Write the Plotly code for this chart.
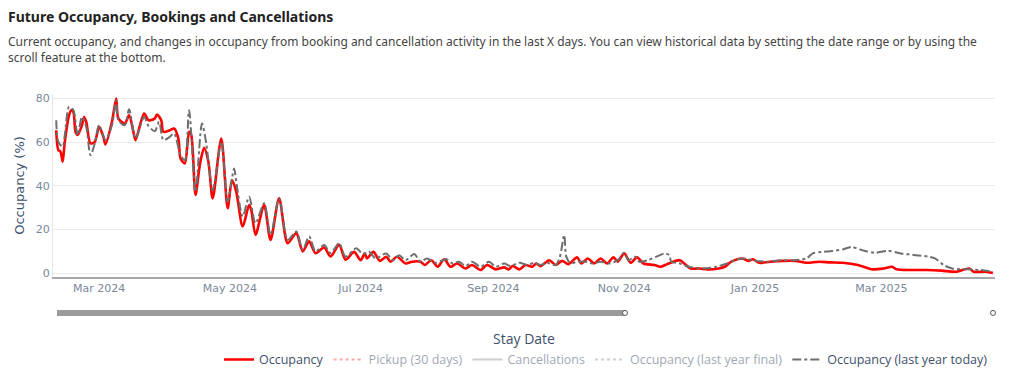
import plotly.graph_objects as go

# ---- data ----
occ_dates = [
    "2024-02-10", "2024-02-11", "2024-02-12", "2024-02-13", "2024-02-14", "2024-02-16", "2024-02-17",
    "2024-02-18", "2024-02-19", "2024-02-20", "2024-02-22", "2024-02-23", "2024-02-24", "2024-02-26",
    "2024-02-28", "2024-03-01", "2024-03-03", "2024-03-04", "2024-03-07", "2024-03-09", "2024-03-10",
    "2024-03-13", "2024-03-15", "2024-03-17", "2024-03-18", "2024-03-22", "2024-03-24", "2024-03-25",
    "2024-03-27", "2024-03-28", "2024-03-30", "2024-03-31", "2024-04-03", "2024-04-05", "2024-04-07",
    "2024-04-08", "2024-04-10", "2024-04-12", "2024-04-13", "2024-04-15", "2024-04-17", "2024-04-19",
    "2024-04-21", "2024-04-23", "2024-04-27", "2024-04-30", "2024-05-02", "2024-05-04", "2024-05-07",
    "2024-05-10", "2024-05-11", "2024-05-13", "2024-05-17", "2024-05-20", "2024-05-24", "2024-05-28",
    "2024-06-01", "2024-06-04", "2024-06-07", "2024-06-10", "2024-06-14", "2024-06-17", "2024-06-21",
    "2024-06-24", "2024-06-28", "2024-07-01", "2024-07-03", "2024-07-04", "2024-07-07", "2024-07-10",
    "2024-07-13", "2024-07-15", "2024-07-18", "2024-07-22", "2024-07-25", "2024-07-29", "2024-07-31",
    "2024-08-03", "2024-08-06", "2024-08-09", "2024-08-12", "2024-08-15", "2024-08-19", "2024-08-22",
    "2024-08-26", "2024-08-29", "2024-09-02", "2024-09-06", "2024-09-08", "2024-09-10", "2024-09-13",
    "2024-09-16", "2024-09-19", "2024-09-21", "2024-09-23", "2024-09-27", "2024-09-30", "2024-10-03",
    "2024-10-06", "2024-10-10", "2024-10-12", "2024-10-15", "2024-10-18", "2024-10-21", "2024-10-24",
    "2024-10-27", "2024-10-29", "2024-11-01", "2024-11-04", "2024-11-07", "2024-11-10", "2024-11-15",
    "2024-11-18", "2024-11-21", "2024-11-27", "2024-11-29", "2024-12-02", "2024-12-06", "2024-12-10",
    "2024-12-15", "2024-12-18", "2024-12-21", "2024-12-26", "2024-12-29", "2024-12-31", "2025-01-03",
    "2025-01-08", "2025-01-14", "2025-01-20", "2025-01-25", "2025-01-31", "2025-02-05", "2025-02-11",
    "2025-02-18", "2025-02-25", "2025-03-02", "2025-03-06", "2025-03-08", "2025-03-15", "2025-03-22",
    "2025-03-29", "2025-04-05", "2025-04-11", "2025-04-13", "2025-04-18", "2025-04-22",
]
occ_values = [
    65.4, 56.3, 55.6, 51.0, 60.1, 72.3, 74.6,
    73.8, 64.7, 63.2, 67.7, 71.5, 69.3, 59.4,
    60.1, 67.0, 62.4, 58.9, 69.3, 79.9, 70.8,
    68.5, 72.3, 64.7, 60.9, 73.1, 70.0, 70.0,
    70.8, 72.6, 70.0, 64.7, 65.4, 66.2, 61.6,
    52.5, 50.2, 64.7, 63.2, 35.8, 49.5, 57.4,
    51.0, 34.2, 61.6, 29.7, 42.6, 37.3, 21.3,
    31.2, 28.9, 17.5, 31.2, 15.2, 34.2, 13.7,
    18.3, 9.9, 14.5, 9.1, 11.7, 7.6, 12.9,
    6.1, 9.7, 5.9, 9.0, 6.7, 9.7, 5.6,
    7.5, 5.2, 7.5, 4.4, 5.2, 5.2, 3.7,
    5.9, 2.9, 6.3, 2.9, 4.4, 2.1, 3.7,
    1.4, 3.7, 1.7, 2.6, 1.7, 3.2, 1.7,
    3.7, 2.9, 4.4, 3.2, 5.9, 3.7, 5.6,
    4.1, 7.2, 4.4, 6.7, 4.4, 6.7, 4.4,
    7.2, 5.2, 9.0, 4.7, 7.2, 4.4, 3.7,
    2.9, 4.1, 5.9, 4.4, 2.1, 2.1, 1.7,
    2.1, 2.9, 5.2, 6.7, 5.6, 6.3, 4.7,
    5.2, 5.6, 5.6, 4.7, 5.2, 4.9, 4.7,
    3.7, 1.7, 2.1, 2.9, 1.7, 1.4, 1.4,
    1.1, 0.6, 2.1, 0.6, 0.6, 0.1,
]

ly_today_dates = [
    "2024-02-10", "2024-02-11", "2024-02-13", "2024-02-14", "2024-02-16", "2024-02-18", "2024-02-20",
    "2024-02-22", "2024-02-24", "2024-02-26", "2024-02-28", "2024-03-01", "2024-03-04", "2024-03-07",
    "2024-03-09", "2024-03-10", "2024-03-13", "2024-03-15", "2024-03-18", "2024-03-22", "2024-03-24",
    "2024-03-27", "2024-03-29", "2024-03-31", "2024-04-03", "2024-04-05", "2024-04-08", "2024-04-10",
    "2024-04-12", "2024-04-15", "2024-04-18", "2024-04-20", "2024-04-23", "2024-04-27", "2024-04-30",
    "2024-05-03", "2024-05-04", "2024-05-07", "2024-05-10", "2024-05-13", "2024-05-17", "2024-05-20",
    "2024-05-24", "2024-05-28", "2024-06-01", "2024-06-04", "2024-06-07", "2024-06-10", "2024-06-14",
    "2024-06-17", "2024-06-21", "2024-06-24", "2024-06-29", "2024-07-02", "2024-07-05", "2024-07-08",
    "2024-07-13", "2024-07-16", "2024-07-19", "2024-07-22", "2024-07-26", "2024-07-29", "2024-08-01",
    "2024-08-05", "2024-08-10", "2024-08-13", "2024-08-16", "2024-08-19", "2024-08-22", "2024-08-26",
    "2024-08-30", "2024-09-02", "2024-09-06", "2024-09-09", "2024-09-13", "2024-09-17", "2024-09-20",
    "2024-09-23", "2024-09-26", "2024-09-30", "2024-10-02", "2024-10-04", "2024-10-05", "2024-10-07",
    "2024-10-10", "2024-10-14", "2024-10-17", "2024-10-21", "2024-10-25", "2024-10-29", "2024-11-01",
    "2024-11-03", "2024-11-06", "2024-11-08", "2024-11-12", "2024-11-16", "2024-11-20", "2024-11-22",
    "2024-11-23", "2024-11-27", "2024-12-01", "2024-12-08", "2024-12-14", "2024-12-19", "2024-12-24",
    "2024-12-27", "2025-01-01", "2025-01-07", "2025-01-13", "2025-01-19", "2025-01-25", "2025-01-28",
    "2025-02-01", "2025-02-05", "2025-02-11", "2025-02-15", "2025-02-20", "2025-02-26", "2025-03-04",
    "2025-03-10", "2025-03-17", "2025-03-23", "2025-03-26", "2025-03-30", "2025-04-03", "2025-04-10",
    "2025-04-16", "2025-04-22",
]
ly_today_values = [
    70.0, 60.1, 57.9, 63.2, 76.1, 74.6, 63.2,
    71.5, 67.0, 54.0, 59.4, 67.7, 60.9, 67.7,
    79.1, 70.0, 67.7, 75.0, 61.6, 71.5, 67.4,
    65.0, 69.3, 60.9, 62.4, 63.9, 54.0, 51.7,
    74.6, 37.3, 68.5, 59.4, 38.0, 60.1, 32.7,
    47.9, 41.9, 25.9, 35.0, 22.8, 32.0, 17.5,
    34.2, 15.2, 19.0, 10.6, 16.8, 9.9, 12.9,
    9.1, 13.7, 7.5, 11.4, 8.7, 9.8, 6.7,
    9.0, 5.9, 8.2, 5.9, 8.7, 5.2, 6.7,
    4.7, 6.3, 4.4, 5.2, 3.2, 5.2, 2.9,
    5.2, 2.9, 4.4, 3.2, 4.7, 3.7, 4.7,
    3.7, 4.7, 3.7, 7.5, 17.4, 7.5, 4.4,
    5.2, 5.2, 4.4, 5.2, 4.4, 5.9, 9.3,
    5.9, 7.5, 5.2, 5.9, 7.5, 9.0, 8.2,
    5.2, 4.4, 2.9, 2.1, 2.9, 4.4, 6.3,
    6.7, 5.6, 5.2, 5.9, 5.9, 6.7, 9.0,
    9.7, 10.0, 10.8, 12.0, 10.5, 9.3, 10.2,
    9.0, 8.2, 7.5, 6.7, 3.7, 2.1, 1.7,
    1.4, 0.6,
]

# hidden (legend-only) series: their values are not visible in the reference
pickup_dates, pickup_values = ["2024-02-10"], [None]
cancel_dates, cancel_values = ["2024-02-10"], [None]
ly_final_dates, ly_final_values = ["2024-02-10"], [None]

y_ticks = [0, 20, 40, 60, 80]
x_tick_dates = ["2024-03-01", "2024-05-01", "2024-07-01", "2024-09-01",
                "2024-11-01", "2025-01-01", "2025-03-01"]
x_tick_labels = ["Mar 2024", "May 2024", "Jul 2024", "Sep 2024",
                 "Nov 2024", "Jan 2025", "Mar 2025"]

# ---- figure ----
fig = go.Figure()
fig.add_trace(go.Scatter(x=occ_dates, y=occ_values, name="Occupancy", mode="lines",
                         line=dict(color="#ff0000", width=2.6, shape="spline", smoothing=0.8)))
fig.add_trace(go.Scatter(x=pickup_dates, y=pickup_values, name="Pickup (30 days)", mode="lines",
                         visible="legendonly",
                         line=dict(color="#ff4d4d", width=2, dash="dot")))
fig.add_trace(go.Scatter(x=cancel_dates, y=cancel_values, name="Cancellations", mode="lines",
                         visible="legendonly",
                         line=dict(color="#9e9e9e", width=2)))
fig.add_trace(go.Scatter(x=ly_final_dates, y=ly_final_values, name="Occupancy (last year final)",
                         mode="lines", visible="legendonly",
                         line=dict(color="#9e9e9e", width=2, dash="dot")))
fig.add_trace(go.Scatter(x=ly_today_dates, y=ly_today_values, name="Occupancy (last year today)",
                         mode="lines",
                         line=dict(color="#6e6e6e", width=2, dash="dashdot", shape="spline",
                                   smoothing=0.8)))

# the page adds an 8px body margin; positions below are given in screenshot pixels
OFF = 8
W, H = 1024 - 2 * OFF, 386 - 2 * OFF
PL, PR, PT, PB = 53, 995, 93.6, 277  # plot-area edges in screenshot pixels
L, R, T, B = PL - OFF, W - (PR - OFF), PT - OFF, H - (PB - OFF)
ph = H - T - B
pw = W - L - R


def px_x(px):
    return (px - PL) / pw


def px_y(py):
    return (PB - py) / ph


fig.update_layout(
    width=W, height=H,
    margin=dict(l=L, r=R, t=T, b=B, autoexpand=False),
    paper_bgcolor="white", plot_bgcolor="white",
    font=dict(family="DejaVu Sans", color="#506784"),
    showlegend=True,
    legend=dict(orientation="h", x=px_x(993), xanchor="right", y=px_y(345), yanchor="top",
                font=dict(family="Open Sans", size=12.5, color="#3d4f6b"),
                itemwidth=30, tracegroupgap=0, bgcolor="rgba(0,0,0,0)"),
    xaxis=dict(
        range=["2024-02-08 12:00", "2025-04-23"],
        tickvals=x_tick_dates, ticktext=x_tick_labels,
        tickfont=dict(family="DejaVu Sans", size=11, color="#7a8799"),
        showgrid=False, showline=True, linecolor="#a8a8a8", linewidth=1.5,
        ticks="", zeroline=False,
        title=dict(text="Stay Date", standoff=40,
                   font=dict(family="Open Sans", size=14, color="#3d4f6b")),
    ),
    yaxis=dict(
        range=[-1.8, 82],
        tickvals=y_ticks,
        tickfont=dict(family="DejaVu Sans", size=11, color="#7a8799"),
        showgrid=True, gridcolor="#ebebeb", gridwidth=1,
        showline=True, linecolor="#e6e6e6", linewidth=1,
        zeroline=False, ticks="",
        title=dict(text="Occupancy (%)", standoff=8,
                   font=dict(family="DejaVu Sans", size=13, color="#3d4f6b")),
    ),
)

# title + subtitle
fig.add_annotation(text="<b>Future Occupancy, Bookings and Cancellations</b>",
                   xref="paper", yref="paper", x=px_x(6), y=px_y(16),
                   xanchor="left", yanchor="middle", showarrow=False,
                   font=dict(family="Noto Sans", size=14, color="#222222"))
fig.add_annotation(text="Current occupancy, and changes in occupancy from booking and cancellation activity in the last X days. You can view historical data by setting the date range or by using the<br>scroll feature at the bottom.",
                   xref="paper", yref="paper", x=px_x(6), y=px_y(49),
                   xanchor="left", yanchor="middle", align="left", showarrow=False,
                   font=dict(family="Noto Sans", size=12, color="#444444"))

# scrollbar decoration under the axis
fig.add_shape(type="rect", xref="paper", yref="paper",
              x0=px_x(57), x1=px_x(625), y0=px_y(316), y1=px_y(310),
              fillcolor="#9b9b9b", line=dict(width=0))
for cx in (625, 993):
    fig.add_shape(type="circle", xref="paper", yref="paper",
                  x0=px_x(cx - 2.5), x1=px_x(cx + 2.5), y0=px_y(315.5), y1=px_y(310.5),
                  fillcolor="white", line=dict(color="#555555", width=1))

fig.write_html("out.html")
